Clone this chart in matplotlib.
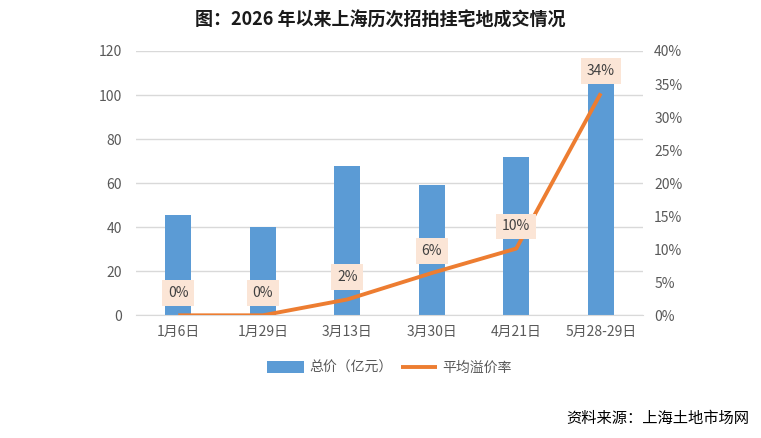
import matplotlib
matplotlib.use("Agg")
import matplotlib.pyplot as plt
from matplotlib.ticker import FuncFormatter
import numpy as np

plt.rcParams['font.family'] = ['Noto Sans CJK SC', 'DejaVu Sans']

categories = ["1月6日", "1月29日", "3月13日", "3月30日", "4月21日", "5月28-29日"]
total_price = [45.7, 40.1, 67.9, 59.2, 71.9, 106.0]
premium_rate = [0.0, 0.0, 0.024, 0.064, 0.101, 0.336]
left_ticks = [0, 20, 40, 60, 80, 100, 120]
right_ticks = [0, 0.05, 0.10, 0.15, 0.20, 0.25, 0.30, 0.35, 0.40]

title = "图：2026 年以来上海历次招拍挂宅地成交情况"
bar_label = "总价（亿元）"
line_label = "平均溢价率"
source = "资料来源：上海土地市场网"

bar_color = "#5B9BD5"
line_color = "#ED7D31"
grid_color = "#D9D9D9"
text_color = "#595959"

fig = plt.figure(figsize=(7.61, 4.38), dpi=100)
ax = fig.add_axes([0.1787, 0.2801, 0.6663, 0.6035])
x = np.arange(len(categories))

bars = ax.bar(x, total_price, width=0.31, color=bar_color, zorder=2, label=bar_label)
ax.set_ylim(0, 120)
ax.set_yticks(left_ticks)
ax.set_xlim(-0.5, len(categories) - 0.5)
ax.set_xticks(x)
ax.set_xticklabels(categories)
ax.grid(axis='y', color=grid_color, linewidth=1, zorder=0)
ax.set_axisbelow(True)
for s in ['top', 'left', 'right']:
    ax.spines[s].set_visible(False)
ax.spines['bottom'].set_color(grid_color)
ax.tick_params(axis='both', length=0, colors=text_color, labelsize=10)
ax.tick_params(axis='x', pad=7)
ax.tick_params(axis='y', pad=10)

ax2 = ax.twinx()
line, = ax2.plot(x, premium_rate, color=line_color, linewidth=2.8, zorder=3,
                 solid_capstyle='butt', label=line_label)
ax2.set_ylim(0, 0.40)
ax2.set_yticks(right_ticks)
ax2.yaxis.set_major_formatter(FuncFormatter(lambda v, p: f"{v*100:.0f}%"))
for s in ['top', 'left', 'right', 'bottom']:
    ax2.spines[s].set_visible(False)
ax2.tick_params(axis='y', length=0, colors=text_color, labelsize=10, pad=8)

for xi, v in zip(x, premium_rate):
    ax2.annotate(f"{v*100:.0f}%", (xi, v), xytext=(0, 16), textcoords='offset points',
                 ha='center', va='center', fontsize=10, color='#404040',
                 bbox=dict(boxstyle='square,pad=0.42', facecolor='#FBE5D6', edgecolor='none'),
                 zorder=5)

fig.text(0.5, 0.955, title, ha='center', va='center', fontsize=13,
         fontweight='bold', color='#1a1a1a')

fig.legend(handles=[bars, line], labels=[bar_label, line_label], loc='center',
           bbox_to_anchor=(0.512, 0.16), ncol=2, frameon=False, fontsize=10,
           labelcolor=text_color, handlelength=2.6, handleheight=0.95,
           columnspacing=0.6, handletextpad=0.4)

fig.text(0.985, 0.045, source, ha='right', va='center', fontsize=11, color='#000000')

fig.savefig("out.png", dpi=100)
